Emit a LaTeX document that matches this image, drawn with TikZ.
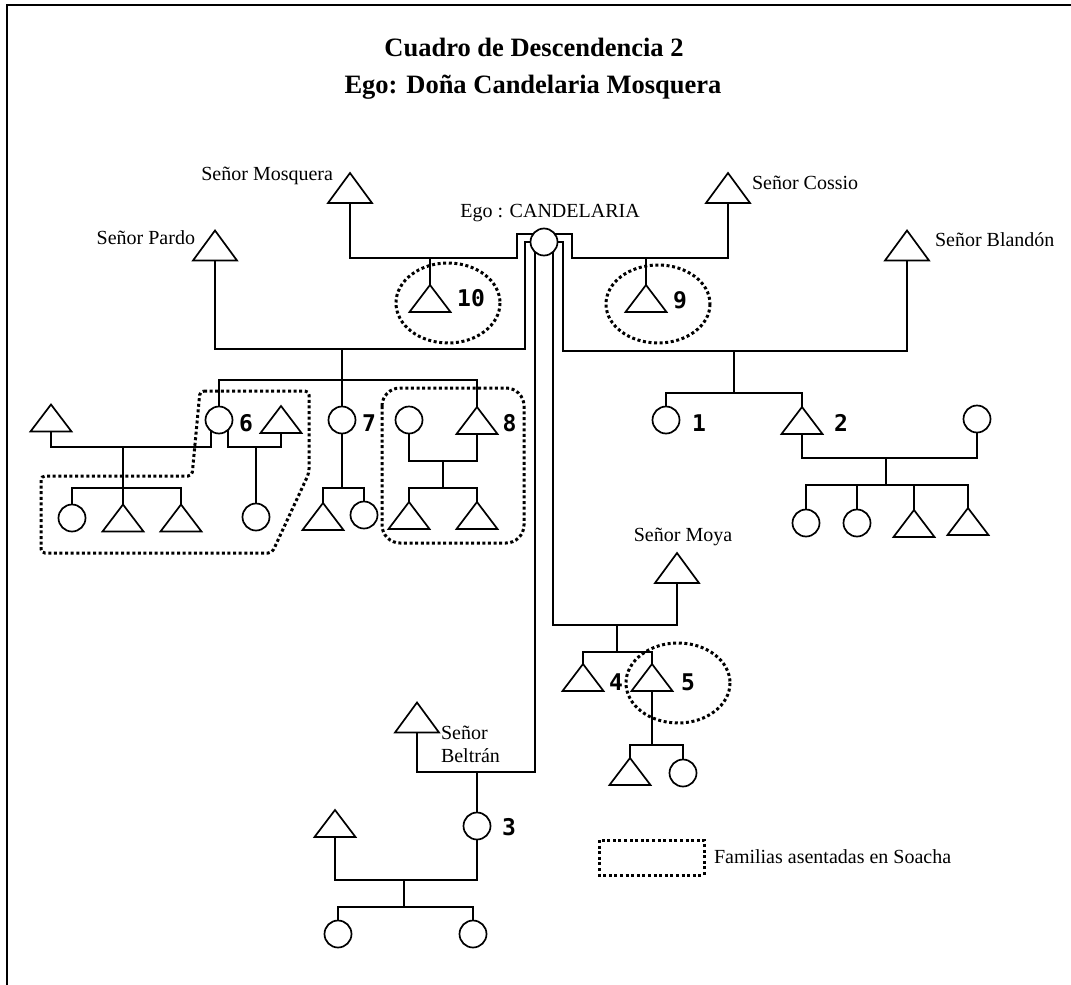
\documentclass[tikz,border=0pt]{standalone}
\usepackage{fontspec}
\setmainfont{Liberation Serif}
\newfontfamily\numfont{DejaVu Sans Mono}
\usetikzlibrary{calc}
\begin{document}
\begin{tikzpicture}[x=1pt,y=-1pt,line width=1.7pt,
  every node/.style={inner sep=0pt,outer sep=0pt},
  tri/.style={minimum width=41pt,minimum height=27pt,
    append after command={\pgfextra{\draw[line width=1.7pt,line join=miter]
      (\tikzlastnode.north) -- (\tikzlastnode.south east) -- (\tikzlastnode.south west) -- cycle;}}},
  bigtri/.style={tri,minimum width=44pt,minimum height=30pt},
  fem/.style={circle,draw,minimum size=27pt},
  lbl/.style={font=\fontsize{20}{23}\selectfont},
  ttl/.style={font=\bfseries\fontsize{26.5}{30}\selectfont},
  num/.style={font=\numfont\bfseries\fontsize{23}{23}\selectfont},
  dots/.style={line width=3pt,dash pattern=on 3pt off 2.6pt},
]
\useasboundingbox (0,0) rectangle (1071,985);
% frame
\draw[line width=2.5pt] (7,985) -- (7,5) -- (1071,5);

% titles
\node[ttl] (title1) at (534,47) {Cuadro de Descendencia 2};
\node[ttl] (title2) at (533,87) {Ego: Doña Candelaria Mosquera};

% Ego
\node[fem] (ego) at (544,242) {};
\node[lbl] (egolbl) at (550,213) {Ego : CANDELARIA};

% husbands
\node[bigtri] (mosq) at (350,188) {};
\node[lbl,anchor=east] (mosqlbl) at (333,176) {Señor Mosquera};
\node[bigtri] (coss) at (728,188) {};
\node[lbl,anchor=west] (cosslbl) at (752,183) {Señor Cossio};
\node[bigtri] (pardo) at (215,245.5) {};
\node[lbl,anchor=east] (pardolbl) at (195,238) {Señor Pardo};
\node[bigtri] (bland) at (907,245.5) {};
\node[lbl,anchor=west] (blandlbl) at (935,240) {Señor Blandón};
\node[bigtri] (moya) at (677,568) {};
\node[lbl] (moyalbl) at (683,537) {Señor Moya};
\node[bigtri] (bel) at (417,717.5) {};
\node[lbl,anchor=north west,align=left] (bellbl) at (441,726) {Señor\\Beltrán};

% Mosquera marriage
\coordinate (mqA) at (517,258);
\draw (mosq.south) |- (mqA) |- (ego.145);
\node[tri] (t10) at (430,298.5) {};
\draw (t10.north) -- (t10.north |- mqA);
\node[num] (n10) at (471,298) {10};
\draw[dots] (448,303) ellipse [x radius=52,y radius=40];

% Cossio marriage
\coordinate (csA) at (572,258);
\draw (coss.south) |- (csA) |- (ego.35);
\node[tri] (t9) at (646,298.5) {};
\draw (t9.north) -- (t9.north |- csA);
\node[num] (n9) at (680,300) {9};
\draw[dots] (658,304) ellipse [x radius=52,y radius=39];

% Pardo marriage
\coordinate (pdA) at (525,349);
\draw (pardo.south) |- (pdA) |- (ego.west);
\coordinate (pdK) at (342,380);
\draw (pdK |- pdA) -- (pdK);
\node[fem] (c6) at (219,420) {};
\node[num] (n6) at (246,423) {6};
\node[fem] (c7) at (342,420) {};
\node[num] (n7) at (369,423) {7};
\node[tri] (t8) at (477,420.5) {};
\node[num] (n8) at (509.5,423) {8};
\draw (c6.north) |- (pdK) -| (t8.north);
\draw (c7.north) -- (c7.north |- pdK);

% family of 6
\node[tri] (s6a) at (51,418) {};
\node[tri] (s6b) at (281,419.5) {};
\coordinate (m6a) at (123,447);
\coordinate (m6b) at (256,447);
\draw (c6.234) |- (m6a) -| (s6a.south);
\draw (c6.-50) |- (m6b) -| (s6b.south);
\coordinate (k6a) at (123,488);
\draw (m6a) -- (k6a);
\node[fem] (k6a1) at (72,518) {};
\node[tri] (k6a2) at (123,518) {};
\node[tri] (k6a3) at (181,518) {};
\draw (k6a1.north) |- (k6a) -| (k6a3.north);
\draw (k6a2.north) -- (k6a);
\node[fem] (k6b1) at (256,517) {};
\draw (m6b) -- (k6b1.north);
\draw[dots,rounded corners=4pt] (200,391) -- (309,391) -- (309,473) -- (272,553) -- (41,553) -- (41,476) -- (192,476) -- cycle;

% family of 7
\coordinate (k7) at (342,488);
\draw (c7.south) -- (k7);
\node[tri] (k71) at (323,516.5) {};
\node[fem] (k72) at (364,515) {};
\draw (k71.north) |- (k7) -| (k72.north);

% family of 8
\node[fem] (s8) at (409,420) {};
\coordinate (m8) at (443,461);
\draw (s8.south) |- (m8) -| (t8.south);
\coordinate (k8) at (443,488);
\draw (m8) -- (k8);
\node[tri] (k81) at (409,515.5) {};
\node[tri] (k82) at (477,515.5) {};
\draw (k81.north) |- (k8) -| (k82.north);
\draw[dots,rounded corners=18pt] (382,388) rectangle (524,543);

% Blandon marriage
\coordinate (blA) at (563,351);
\draw (ego.east) -| (blA) -| (bland.south);
\coordinate (blK) at (734,393);
\draw (blK |- blA) -- (blK);
\node[fem] (c1) at (666,420) {};
\node[num] (n1) at (699,423) {1};
\node[tri] (t2) at (802,420.5) {};
\node[num] (n2) at (841,423) {2};
\draw (c1.north) |- (blK) -| (t2.north);
\node[fem] (s2) at (977,419) {};
\coordinate (m2) at (886,458);
\draw (t2.south) |- (m2) -| (s2.south);
\coordinate (k2) at (886,485);
\draw (m2) -- (k2);
\node[fem] (k21) at (806,523) {};
\node[fem] (k22) at (857,523) {};
\node[tri] (k23) at (914,523.5) {};
\node[tri] (k24) at (968,521.5) {};
\draw (k21.north) |- (k2) -| (k24.north);
\draw (k22.north) -- (k22.north |- k2);
\draw (k23.north) -- (k23.north |- k2);

% Moya marriage
\coordinate (myA) at (617,625);
\draw (ego.-50) |- (myA) -| (moya.south);
\coordinate (myK) at (617,652);
\draw (myA) -- (myK);
\node[tri] (t4) at (583,677.5) {};
\node[num] (n4) at (616,682) {4};
\node[tri] (t5) at (652,677.5) {};
\node[num] (n5) at (688,682) {5};
\draw (t4.north) |- (myK) -| (t5.north);
\draw[dots] (678,683) ellipse [x radius=52,y radius=40];
\coordinate (k5) at (652,745);
\draw (t5.south) -- (k5);
\node[tri] (k51) at (630,771.5) {};
\node[fem] (k52) at (683,773) {};
\draw (k51.north) |- (k5) -| (k52.north);

% Beltran marriage
\coordinate (beA) at (477,772);
\draw (ego.-130) |- (beA) -| (bel.south);
\node[fem] (c3) at (477,826) {};
\node[num] (n3) at (509,827) {3};
\draw (beA) -- (c3.north);
\node[tri] (s3) at (335,823.5) {};
\coordinate (m3) at (404,880);
\draw (c3.south) |- (m3) -| (s3.south);
\coordinate (k3) at (404,907);
\draw (m3) -- (k3);
\node[fem] (k31) at (338,934) {};
\node[fem] (k32) at (473,934) {};
\draw (k31.north) |- (k3) -| (k32.north);

% legend
\draw[dots] (599,840) rectangle (704,875);
\node[lbl,anchor=west] (leg) at (714,857) {Familias asentadas en Soacha};
\end{tikzpicture}
\end{document}
